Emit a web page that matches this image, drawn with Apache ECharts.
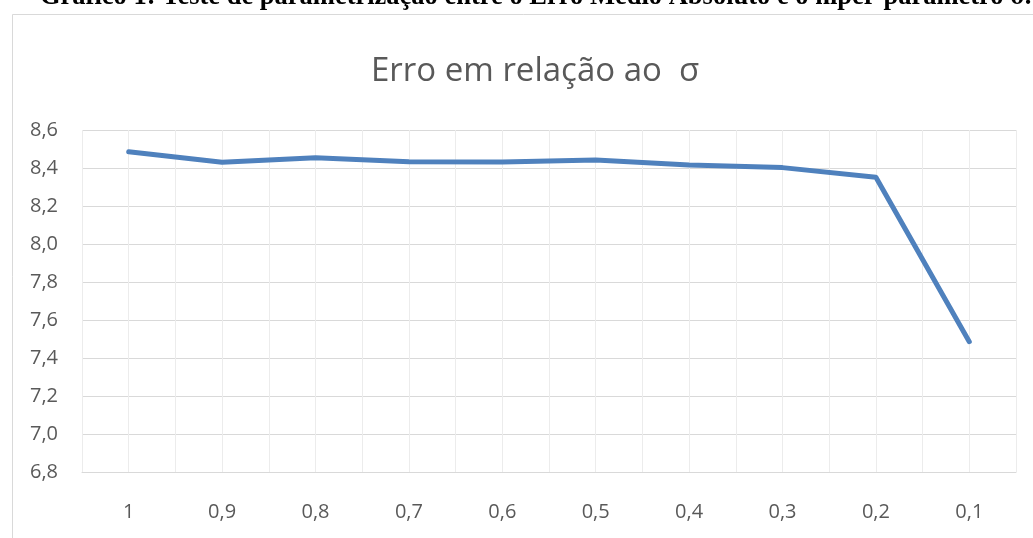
<!DOCTYPE html>
<html>
<head>
<meta charset="utf-8">
<script src="https://cdn.jsdelivr.net/npm/echarts@6/dist/echarts.min.js"></script>
<style>
  html, body { margin: 0; padding: 0; background: #fff; }
  #chart { width: 1033px; height: 538px; }
</style>
</head>
<body>
<div id="chart"></div>
<script>
  // valores
  const sigmas = ['1', '0,9', '0,8', '0,7', '0,6', '0,5', '0,4', '0,3', '0,2', '0,1'];
  const erro = [8.486, 8.43, 8.454, 8.433, 8.432, 8.442, 8.416, 8.402, 8.351, 7.486];
  const halfSteps = sigmas.flatMap(s => [s + 'a', s + 'b']);

  const chart = echarts.init(document.getElementById('chart'));
  const option = {
    backgroundColor: '#fff',
    animation: false,
    graphic: [{
      type: 'rect',
      left: 10,
      top: 12,
      shape: { width: 1100, height: 600 },
      style: { fill: 'none', stroke: '#d9d9d9', lineWidth: 1 },
      z: 0
    }],
    title: [{
      text: 'Gráfico 1: Teste de parametrização entre o Erro Médio Absoluto e o hiper-parâmetro σ.',
      left: 35,
      top: -21,
      textStyle: {
        fontFamily: 'Liberation Serif',
        fontWeight: 'bold',
        fontSize: 26.5,
        color: '#000'
      }
    }, {
      text: 'Erro em relação ao  σ',
      left: 366,
      top: 50,
      textStyle: {
        fontFamily: 'Open Sans',
        fontWeight: 'normal',
        fontSize: 33,
        color: '#595959'
      }
    }],
    grid: { left: 82, right: 17, top: 130, bottom: 66 },
    xAxis: [{
      type: 'category',
      data: sigmas,
      boundaryGap: true,
      axisLine: { show: true, lineStyle: { color: '#d9d9d9', width: 1 } },
      axisTick: { show: false },
      splitLine: { show: false },
      axisLabel: {
        margin: 30,
        fontFamily: 'Open Sans',
        fontSize: 20,
        color: '#595959'
      }
    }, {
      type: 'category',
      data: halfSteps,
      boundaryGap: true,
      position: 'bottom',
      axisLine: { show: false },
      axisTick: { show: false },
      axisLabel: { show: false },
      splitLine: { show: true, interval: 0, lineStyle: { color: '#ececec', width: 1 } }
    }],
    yAxis: {
      type: 'value',
      min: 6.8,
      max: 8.6,
      interval: 0.2,
      axisLine: { show: false },
      axisTick: { show: false },
      splitLine: { show: true, lineStyle: { color: '#d9d9d9', width: 1 } },
      axisLabel: {
        margin: 24,
        fontFamily: 'Open Sans',
        fontSize: 20,
        color: '#595959',
        formatter: v => v.toFixed(1).replace('.', ',')
      }
    },
    series: [{
      type: 'line',
      xAxisIndex: 0,
      data: erro,
      symbol: 'none',
      lineStyle: { color: '#4f81bd', width: 5, cap: 'round', join: 'round' },
      z: 5
    }]
  };
  chart.setOption(option);
</script>
</body>
</html>
